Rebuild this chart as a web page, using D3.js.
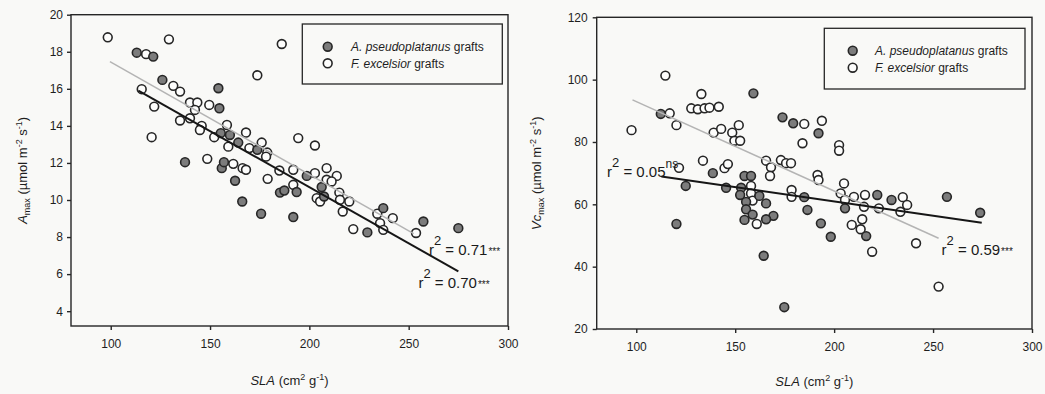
<!DOCTYPE html>
<html><head><meta charset="utf-8">
<script src="https://cdn.jsdelivr.net/npm/d3@7"></script>
<style>
html,body{margin:0;padding:0;background:#f9f9f7;}
svg{display:block;font-family:"Liberation Sans",Arial,sans-serif;}
</style></head><body>
<svg id="chart" width="1045" height="394"></svg>
<script>
// ---------- DATA ----------
const seriesNames = ["A. pseudoplatanus", "F. excelsior"];
const legendSuffix = " grafts";

// Left panel: Amax vs SLA
const amaxA_SLA  = [113.1,121.4,126.0,154.2,154.7,137.4,155.4,160.0,164.2,173.8,155.9,157.0,162.6,166.2,175.7,185.2,187.4,193.6,191.9,198.7,206.2,207.4,237.2,229.2,257.4,275.0];
const amaxA_Amax = [17.95,17.74,16.48,16.03,14.95,12.04,13.61,13.51,13.10,12.71,11.72,12.04,11.04,9.92,9.26,10.40,10.51,10.43,9.08,11.30,10.70,10.19,9.56,8.25,8.84,8.48];

const amaxF_SLA  = [98.5,117.8,129.3,115.6,131.5,134.9,121.9,120.6,139.9,143.6,149.6,142.4,134.9,139.9,145.8,144.9,152.1,158.5,168.1,148.6,161.7,166.4,168.1,159.2,169.8,176.0,178.8,178.2,173.8,186.1,179.0,184.9,191.9,191.9,194.4,202.8,208.7,208.7,202.8,203.7,205.4,213.8,211.2,215.1,215.4,220.1,216.8,234.2,242.0,235.6,237.2,222.1,253.7];
const amaxF_Amax = [18.78,17.87,18.67,15.98,16.16,15.85,15.04,13.39,15.26,15.26,15.13,14.86,14.29,14.41,14.00,13.78,13.39,14.05,13.64,12.22,11.95,11.72,11.63,12.88,12.80,13.10,12.56,12.34,16.73,18.42,11.14,11.59,11.63,10.82,13.34,12.94,11.72,11.09,11.45,10.10,9.92,11.30,11.00,10.40,10.01,9.92,9.38,9.26,9.02,8.75,8.39,8.43,8.22];

// Right panel: Vcmax vs SLA
const vcA_SLA = [112.4,159.2,173.9,179.3,192.1,125.0,120.3,138.7,145.4,154.7,158.0,153.0,152.5,162.2,155.5,165.6,155.5,158.8,169.3,165.6,154.7,164.4,174.8,184.9,186.5,193.3,198.3,205.5,216.2,221.8,229.0,257.0,273.8];
const vcA_Vc  = [89.0,95.6,87.9,86.0,82.8,65.9,53.7,70.0,65.3,69.1,69.1,65.3,63.0,62.7,60.8,60.3,58.4,56.7,56.3,55.2,55.0,43.5,27.0,62.3,58.2,53.9,49.6,58.7,49.8,63.0,61.4,62.4,57.3];

const vcF_SLA = [97.6,114.7,116.9,120.3,132.9,127.8,131.1,134.5,137.0,141.7,139.1,142.9,148.5,151.8,149.6,152.5,133.7,121.6,144.6,146.3,165.6,168.1,167.6,173.1,175.7,178.2,158.0,158.0,158.8,160.9,184.9,193.8,184.0,202.5,202.5,191.6,192.1,205.0,203.3,178.5,178.5,205.5,210.0,215.6,215.1,214.2,208.9,213.4,219.2,234.7,236.9,233.5,222.6,241.4,252.8];
const vcF_Vc  = [83.8,101.3,89.2,85.4,95.4,90.8,90.5,90.8,91.0,91.3,83.0,84.2,83.0,85.4,80.4,80.4,74.0,71.7,71.6,72.9,74.0,71.9,69.1,74.2,73.2,73.2,65.9,63.5,61.2,53.7,85.8,86.8,79.6,79.0,77.2,69.4,67.8,66.7,63.5,64.6,62.4,61.4,62.4,63.0,59.2,55.2,53.4,52.0,44.8,62.3,59.8,57.6,58.7,47.5,33.6];

// Regression lines (end points)
const fitAmaxA_SLA = [113.9, 275.0], fitAmaxA_Y = [15.90, 6.15];
const fitAmaxF_SLA = [99.6, 252.5],  fitAmaxF_Y = [17.47, 8.18];
const fitVcA_SLA   = [112.7, 274.6], fitVcA_Y   = [68.9, 54.1];
const fitVcF_SLA   = [98.1, 252.8],  fitVcF_Y   = [93.5, 49.1];

// r² annotations: value, significance
const r2Values = ["0.71", "0.70", "0.05", "0.59"];
const r2Signif = ["***", "***", "ns", "***"];

// Axis ticks
const xTicks = [100, 150, 200, 250, 300];
const amaxTicks = [4, 6, 8, 10, 12, 14, 16, 18, 20];
const vcTicks = [20, 40, 60, 80, 100, 120];

// ---------- DRAW ----------
const svg = d3.select("#chart");
svg.append("rect").attr("width", 1045).attr("height", 394).attr("fill", "#f9f9f7");

const INK = "#262626";
const FILL_A = "#7c7c7c";
const FILL_F = "#fdfdfc";
const R = 4.4;

function zip(xs, ys) { return xs.map((x, i) => ({x, y: ys[i]})); }

function panel(cfg) {
  const g = svg.append("g");
  const x = d3.scaleLinear().domain(cfg.xDomain).range(cfg.xRange);
  const y = d3.scaleLinear().domain(cfg.yDomain).range(cfg.yRange);

  // frame
  g.append("rect")
    .attr("x", cfg.xRange[0]).attr("y", cfg.yRange[1])
    .attr("width", cfg.xRange[1] - cfg.xRange[0])
    .attr("height", cfg.yRange[0] - cfg.yRange[1])
    .attr("fill", "none").attr("stroke", INK).attr("stroke-width", 1.4);

  const xa = g.append("g").attr("transform", `translate(0,${cfg.yRange[0]})`)
    .call(d3.axisBottom(x).tickValues(xTicks).tickSize(4).tickPadding(9).tickFormat(d3.format("d")));
  const ya = g.append("g").attr("transform", `translate(${cfg.xRange[0]},0)`)
    .call(d3.axisLeft(y).tickValues(cfg.yTicks).tickSize(4).tickPadding(cfg.yPad).tickFormat(d3.format("d")));
  [xa, ya].forEach(a => {
    a.select(".domain").remove();
    a.selectAll("line").attr("stroke", INK).attr("stroke-width", 1.4);
    a.selectAll("text").attr("fill", "#1e1e1e").attr("font-size", 12)
      .attr("font-family", "Liberation Sans, Arial, sans-serif");
  });

  const line = d3.line().x(d => x(d.x)).y(d => y(d.y));

  // points
  g.append("g").selectAll("circle").data(cfg.open).join("circle")
    .attr("cx", d => x(d.x)).attr("cy", d => y(d.y)).attr("r", R)
    .attr("fill", FILL_F).attr("stroke", INK).attr("stroke-width", 1.6);
  g.append("g").selectAll("circle").data(cfg.filled).join("circle")
    .attr("cx", d => x(d.x)).attr("cy", d => y(d.y)).attr("r", R)
    .attr("fill", FILL_A).attr("stroke", INK).attr("stroke-width", 1.6);

  // fit lines
  g.append("path").datum(cfg.fitF).attr("d", line)
    .attr("fill", "none").attr("stroke", "#b4b4b4").attr("stroke-width", 1.5);
  g.append("path").datum(cfg.fitA).attr("d", line)
    .attr("fill", "none").attr("stroke", "#161616").attr("stroke-width", 2);

  // annotations
  cfg.notes.forEach(n => {
    const t = g.append("text").attr("x", x(n.x)).attr("y", y(n.y))
      .attr("font-size", 15).attr("fill", "#1a1a1a");
    t.append("tspan").text("r");
    t.append("tspan").attr("font-size", 13).attr("dy", -10).text("2");
    t.append("tspan").attr("dy", 10).text(" = " + n.val);
    if (n.sig === "ns") {
      t.append("tspan").attr("font-size", 12).attr("dy", -9).text("ns");
    } else {
      t.append("tspan").attr("font-size", 10).attr("dx", 1).text(n.sig);
    }
  });

  // legend
  const L = cfg.legend;
  g.append("rect").attr("x", L.x).attr("y", L.y).attr("width", L.w).attr("height", L.h)
    .attr("fill", "none").attr("stroke", INK).attr("stroke-width", 1.3);
  const items = [{name: seriesNames[0], fill: FILL_A}, {name: seriesNames[1], fill: FILL_F}];
  items.forEach((it, i) => {
    const cy = L.y + L.row0 + i * L.dy;
    g.append("circle").attr("cx", L.x + L.cx).attr("cy", cy).attr("r", R)
      .attr("fill", it.fill).attr("stroke", INK).attr("stroke-width", 1.6);
    const t = g.append("text").attr("x", L.x + L.tx).attr("y", cy + 4.3)
      .attr("font-size", 12).attr("fill", "#1e1e1e");
    t.append("tspan").attr("font-style", "italic").text(it.name);
    t.append("tspan").text(legendSuffix);
  });

  // axis titles
  const xc = (cfg.xRange[0] + cfg.xRange[1]) / 2;
  const xt = g.append("text").attr("x", xc).attr("y", cfg.xTitleY)
    .attr("text-anchor", "middle").attr("font-size", 13).attr("fill", "#1e1e1e");
  xt.append("tspan").attr("font-style", "italic").text("SLA");
  xt.append("tspan").text(" (cm");
  xt.append("tspan").attr("font-size", 9).attr("dy", -5).text("2");
  xt.append("tspan").attr("dy", 5).text(" g");
  xt.append("tspan").attr("font-size", 9).attr("dy", -5).text("-1");
  xt.append("tspan").attr("dy", 5).text(")");

  const yc = (cfg.yRange[0] + cfg.yRange[1]) / 2;
  const yt = g.append("text").attr("transform", `translate(${cfg.yTitleX},${yc}) rotate(-90)`)
    .attr("text-anchor", "middle").attr("font-size", 13).attr("fill", "#1e1e1e");
  yt.append("tspan").attr("font-style", "italic").text(cfg.yVar);
  yt.append("tspan").attr("font-size", 9).attr("dy", 3).text("max");
  yt.append("tspan").attr("dy", -3).text(" (\u00b5mol m");
  yt.append("tspan").attr("font-size", 9).attr("dy", -5).text("-2");
  yt.append("tspan").attr("dy", 5).text(" s");
  yt.append("tspan").attr("font-size", 9).attr("dy", -5).text("-1");
  yt.append("tspan").attr("dy", 5).text(")");
}

panel({
  xDomain: [80, 300], xRange: [71, 508],
  yDomain: [3.2, 20], yRange: [326, 14.7],
  yTicks: amaxTicks, yPad: 4,
  filled: zip(amaxA_SLA, amaxA_Amax),
  open: zip(amaxF_SLA, amaxF_Amax),
  fitA: zip(fitAmaxA_SLA, fitAmaxA_Y),
  fitF: zip(fitAmaxF_SLA, fitAmaxF_Y),
  notes: [
    {x: 260.2, y: 7.05, val: r2Values[0], sig: r2Signif[0]},
    {x: 254.9, y: 5.25, val: r2Values[1], sig: r2Signif[1]}
  ],
  legend: {x: 302.3, y: 24, w: 200, h: 60, cx: 25.4, tx: 48.7, row0: 22.7, dy: 16.6},
  xTitleY: 385, yTitleX: 27, yVar: "A"
});

panel({
  xDomain: [80, 300], xRange: [596.7, 1032],
  yDomain: [20, 120], yRange: [329, 17.3],
  yTicks: vcTicks, yPad: 5,
  filled: zip(vcA_SLA, vcA_Vc),
  open: zip(vcF_SLA, vcF_Vc),
  fitA: zip(fitVcA_SLA, fitVcA_Y),
  fitF: zip(fitVcF_SLA, fitVcF_Y),
  notes: [
    {x: 85.2, y: 68.8, val: r2Values[2], sig: r2Signif[2]},
    {x: 254.3, y: 43.7, val: r2Values[3], sig: r2Signif[3]}
  ],
  legend: {x: 824.3, y: 28.3, w: 200.7, h: 60.7, cx: 28.4, tx: 50.7, row0: 22.4, dy: 17},
  xTitleY: 386, yTitleX: 541, yVar: "Vc"
});
</script>
</body></html>
